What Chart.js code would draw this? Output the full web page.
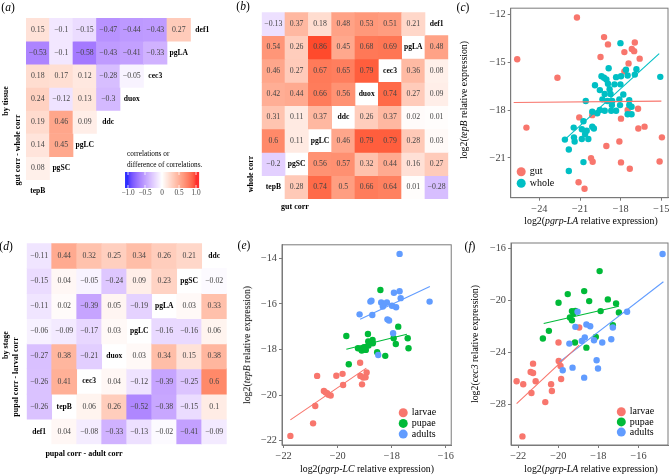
<!DOCTYPE html>
<html>
<head>
<meta charset="utf-8">
<script src="https://cdn.jsdelivr.net/npm/chart.js@4.4.0/dist/chart.umd.min.js"></script>
<style>
  body { margin: 0; background: #fff; width: 672px; height: 476px; position: relative; overflow: hidden;
         font-family: "Liberation Serif", "Times New Roman", serif; }
  canvas { position: absolute; }
  .t { position: absolute; white-space: nowrap; color: #000; line-height: 1; transform: translate(-50%, -50%); z-index: 2; }
  .r { transform: translate(-50%, -50%) rotate(-90deg); }
  .h { font-weight: bold; font-size: 8px; }
  .p { font-size: 11.5px; }
  .ax { font-size: 9.8px; }
</style>
</head>
<body>
<canvas id="chartA" width="230" height="232" style="left:0;top:0"></canvas>
<canvas id="chartB" width="220" height="232" style="left:232px;top:0"></canvas>
<canvas id="chartC" width="202" height="216" style="left:470px;top:0"></canvas>
<canvas id="chartD" width="232" height="240" style="left:0;top:232px"></canvas>
<canvas id="chartE" width="216" height="232" style="left:240px;top:232px"></canvas>
<canvas id="chartF" width="196" height="232" style="left:476px;top:232px"></canvas>

<div class="t p" style="left:8px;top:8px">(<i>a</i>)</div>
<div class="t p" style="left:243px;top:7px">(<i>b</i>)</div>
<div class="t p" style="left:463px;top:8px">(<i>c</i>)</div>
<div class="t p" style="left:6px;top:247px">(<i>d</i>)</div>
<div class="t p" style="left:244px;top:246px">(<i>e</i>)</div>
<div class="t p" style="left:470px;top:247px">(<i>f</i>)</div>

<div class="t r h" style="left:6px;top:101px">by tissue</div>
<div class="t r h" style="left:18px;top:150px">gut corr - whole corr</div>
<div class="t r h" style="left:251px;top:174px">whole corr</div>
<div class="t h" style="left:295px;top:207px">gut corr</div>
<div class="t r h" style="left:6px;top:345px">by stage</div>
<div class="t r h" style="left:16px;top:377px">pupal corr - larval corr</div>
<div class="t h" style="left:84px;top:454px">pupal corr - adult corr</div>

<div class="t r ax" style="left:464px;top:100px">log2(<i>tepB</i> relative expression)</div>
<div class="t ax" style="left:591px;top:221px">log2(<i>pgrp-LA</i> relative expression)</div>
<div class="t r ax" style="left:247px;top:345px">log2(<i>tepB</i> relative expression)</div>
<div class="t ax" style="left:367px;top:469px">log2(<i>pgrp-LC</i> relative expression)</div>
<div class="t r ax" style="left:475px;top:344px">log2(<i>cec3</i> relative expression)</div>
<div class="t ax" style="left:591px;top:469px">log2(<i>pgrp-LA</i> relative expression)</div>

<script>
// ---- heatmap data (rows top to bottom, null = empty / diagonal label) ----
const tissueCols = ["tepB", "pgSC", "pgLC", "ddc", "duox", "cec3", "pgLA", "def1"];
const tissueDiag = ["def1", "pgLA", "cec3", "duox", "ddc", "pgLC", "pgSC", "tepB"];
const tissueDiff = [
  [0.15, -0.1, -0.15, -0.47, -0.44, -0.43, 0.27, null],
  [-0.53, -0.1, -0.58, -0.43, -0.41, -0.33, null, null],
  [0.18, 0.17, 0.12, -0.28, -0.05, null, null, null],
  [0.24, -0.12, 0.13, -0.3, null, null, null, null],
  [0.19, 0.46, 0.09, null, null, null, null, null],
  [0.14, 0.45, null, null, null, null, null, null],
  [0.08, null, null, null, null, null, null, null],
  [null, null, null, null, null, null, null, null]
];
const tissueCorr = [
  [-0.13, 0.37, 0.18, 0.48, 0.53, 0.51, 0.21, null],
  [0.54, 0.26, 0.86, 0.45, 0.68, 0.69, null, 0.48],
  [0.46, 0.27, 0.67, 0.65, 0.79, null, 0.36, 0.08],
  [0.42, 0.44, 0.66, 0.56, null, 0.74, 0.27, 0.09],
  [0.31, 0.11, 0.37, null, 0.26, 0.37, 0.02, 0.01],
  [0.6, 0.11, null, 0.46, 0.79, 0.79, 0.28, 0.03],
  [-0.2, null, 0.56, 0.57, 0.32, 0.44, 0.16, 0.27],
  [null, 0.28, 0.74, 0.5, 0.66, 0.64, 0.01, -0.28]
];
const stageCols = ["def1", "tepB", "cec3", "duox", "pgLC", "pgLA", "pgSC", "ddc"];
const stageDiag = ["ddc", "pgSC", "pgLA", "pgLC", "duox", "cec3", "tepB", "def1"];
const stageDiff = [
  [-0.11, 0.44, 0.32, 0.25, 0.34, 0.26, 0.21, null],
  [-0.15, 0.04, -0.05, -0.24, 0.09, 0.23, null, -0.02],
  [-0.11, 0.02, -0.39, 0.05, -0.19, null, 0.03, 0.33],
  [-0.06, -0.09, -0.17, 0.03, null, -0.16, -0.16, 0.06],
  [-0.27, 0.38, -0.21, null, 0.03, 0.34, 0.15, 0.38],
  [-0.26, 0.41, null, 0.04, -0.12, -0.39, -0.25, 0.6],
  [-0.26, null, 0.06, 0.26, -0.52, -0.38, -0.15, 0.1],
  [null, 0.04, -0.08, -0.33, -0.13, -0.02, -0.41, -0.09]
];
const cbTickVals = [-1, -0.5, 0, 0.5, 1];
const cbTickText = ["\u22121.0", "\u22120.5", "0", "0.5", "1.0"];
const cbTitle = ["correlations or", "difference of correlations."];

// ---- scatter data ----
const gutLA = [-21.23, -19.23, -18.94, -19.49, -25.64, -22.67, -17.73, -16.96, -17.18, -17.01, -16.6, -17.42, -17.73, -21.06, -24.96, -20.1, -17.98, -16.72, -17.49, -16.7, -16.24, -14.96, -19.06, -18.1, -20.19, -20.07, -17.98, -17.33, -21.11, -20.67, -15.13];
const gutTepB = [-12.2, -13.43, -13.89, -14.68, -14.82, -15.98, -14.37, -13.77, -14.17, -14.31, -14.78, -15.08, -15.58, -18.46, -19.1, -18.32, -18.54, -17.92, -18.0, -19.16, -19.04, -19.71, -20.25, -19.97, -21.01, -21.24, -21.28, -21.68, -22.52, -22.93, -21.22];
const wholeLA = [-18.02, -18.89, -18.34, -17.98, -17.61, -17.49, -16.84, -16.96, -19.42, -19.23, -19.06, -19.9, -18.94, -18.82, -18.46, -19.54, -19.18, -18.75, -18.02, -17.81, -19.35, -18.99, -18.63, -18.1, -17.37, -20.58, -17.37, -18.65, -18.05, -19.54, -19.18, -18.7, -18.34, -17.49, -17.2, -17.2, -20.1, -19.73, -20.75, -20.87, -20.1, -19.98, -20.51, -21.47, -20.63, -22.12, -21.45, -21.4, -21.83, -20.87, -20.39, -20.75, -21.83, -15.08];
const wholeTepB = [-13.81, -15.38, -15.94, -15.88, -15.48, -15.84, -15.44, -15.78, -15.88, -15.98, -16.08, -16.45, -16.35, -16.69, -16.39, -16.75, -16.99, -16.99, -16.39, -17.03, -17.33, -17.43, -17.43, -17.33, -17.39, -17.43, -17.69, -17.69, -17.69, -18.0, -18.04, -18.04, -18.04, -18.26, -18.26, -17.79, -18.1, -18.2, -18.7, -19.2, -19.04, -19.16, -19.3, -19.1, -19.5, -19.85, -19.71, -19.97, -20.47, -19.81, -19.81, -21.26, -21.82, -15.92];
const gutFitX = [-25.9, -15.0], gutFitY = [-17.53, -17.44];
const wholeFitX = [-22.07, -15.16], wholeFitY = [-19.81, -14.47];

const larvaeLC = [-21.75, -20.91, -20.83, -20.76, -20.51, -20.45, -20.39, -20.34, -20.26, -20.05, -19.82, -19.8, -19.17, -19.16, -19.06, -18.97, -18.93, -19.1];
const larvaeTepB = [-21.79, -21.24, -20.48, -19.16, -19.82, -19.88, -19.92, -19.99, -20.02, -19.15, -19.07, -19.56, -18.58, -19.16, -19.23, -19.22, -19.01, -19.53];
const pupaeLC = [-18.42, -19.68, -19.59, -19.25, -19.13, -19.11, -18.88, -18.87, -18.86, -19.02, -18.96, -18.71, -18.7, -18.54, -18.24, -17.76, -17.93, -17.85, -17.38, -17.41];
const pupaeTepB = [-15.39, -17.41, -18.65, -17.95, -17.99, -18.05, -17.32, -17.65, -17.83, -17.9, -18.02, -17.58, -17.73, -18.12, -18.28, -17.0, -17.51, -17.76, -17.95, -17.51];
const adultsLC = [-17.71, -19.19, -18.79, -18.75, -18.72, -18.39, -18.27, -18.18, -18.33, -17.99, -17.92, -17.71, -17.67, -17.84, -18.16, -18.1, -17.95, -18.5, -16.6];
const adultsTepB = [-13.81, -16.46, -15.9, -15.86, -16.49, -15.94, -16.0, -15.94, -16.12, -16.08, -15.51, -15.45, -15.75, -16.15, -16.68, -16.73, -17.29, -18.24, -15.9];
const larvaeFitE = { x: [-21.75, -18.94], y: [-21.09, -18.82] };
const pupaeFitE = { x: [-19.68, -17.44], y: [-17.99, -17.33] };
const adultsFitE = { x: [-19.17, -16.59], y: [-16.68, -15.24] };

const larvaeLA = [-22.08, -21.75, -21.38, -21.34, -21.26, -21.26, -21.13, -20.65, -20.36, -20.32, -19.99, -19.98, -19.89, -19.86, -18.96, -21.79];
const larvaeCec3 = [-26.23, -26.46, -25.51, -27.13, -24.87, -25.59, -26.23, -27.83, -26.46, -26.98, -23.25, -24.66, -25.05, -26.05, -22.09, -30.47];
const pupaeLA = [-17.94, -18.71, -19.53, -19.99, -18.46, -17.53, -17.12, -16.98, -17.89, -19.32, -19.15, -19.25, -19.42, -19.32, -17.28, -20.47, -20.77, -18.13, -18.6, -19.17];
const pupaeCec3 = [-17.75, -19.29, -19.52, -20.19, -20.06, -19.93, -20.24, -20.94, -20.83, -20.83, -20.81, -21.01, -21.32, -21.53, -21.91, -22.35, -22.94, -22.81, -23.64, -23.25];
const adultsLA = [-14.8, -19.04, -19.15, -18.6, -18.41, -17.28, -16.57, -19.45, -18.83, -18.68, -18.22, -17.81, -17.36, -18.09, -18.02, -19.29, -19.78, -18.71];
const adultsCec3 = [-16.44, -20.88, -22.04, -21.86, -21.99, -22.09, -20.88, -23.33, -23.12, -22.86, -23.07, -23.25, -22.99, -24.61, -25.25, -25.18, -25.38, -25.95];
const larvaeFitF = { x: [-22.08, -18.96], y: [-27.95, -23.45] };
const pupaeFitF = { x: [-20.73, -16.98], y: [-21.78, -20.45] };
const adultsFitF = { x: [-19.94, -14.76], y: [-24.74, -18.57] };

const cTicksX = [-24, -21, -18, -15], cTicksY = [-21, -18, -15, -12];
const eTicksX = [-22, -20, -18, -16], eTicksY = [-22, -20, -18, -16, -14];
const fTicksX = [-22, -20, -18, -16], fTicksY = [-28, -24, -20, -16];

const RED = "#F8766D", TEAL = "#00BFC4", GREEN = "#00BA38", BLUE = "#619CFF";
const SERIF = '"Liberation Serif", "Times New Roman", serif';
Chart.defaults.font.family = SERIF;

// blue - white - red gradient interpolated in Lab space (like ggplot's gradient2)
function toLin(c) { c /= 255; return c <= 0.04045 ? c / 12.92 : Math.pow((c + 0.055) / 1.055, 2.4); }
function toByte(c) {
  const v = c <= 0.0031308 ? 12.92 * c : 1.055 * Math.pow(c, 1 / 2.4) - 0.055;
  return Math.round(Math.max(0, Math.min(1, v)) * 255);
}
function rgbToLab(rgb) {
  const R = toLin(rgb[0]), G = toLin(rgb[1]), B = toLin(rgb[2]);
  const f = t => t > 0.008856 ? Math.cbrt(t) : 7.787 * t + 16 / 116;
  const fx = f((R * 0.4124 + G * 0.3576 + B * 0.1805) / 0.95047);
  const fy = f(R * 0.2126 + G * 0.7152 + B * 0.0722);
  const fz = f((R * 0.0193 + G * 0.1192 + B * 0.9505) / 1.08883);
  return [116 * fy - 16, 500 * (fx - fy), 200 * (fy - fz)];
}
function labToRgb(lab) {
  const fy = (lab[0] + 16) / 116, fx = fy + lab[1] / 500, fz = fy - lab[2] / 200;
  const inv = t => t * t * t > 0.008856 ? t * t * t : (t - 16 / 116) / 7.787;
  const x = inv(fx) * 0.95047, y = inv(fy), z = inv(fz) * 1.08883;
  const r = 3.2406 * x - 1.5372 * y - 0.4986 * z;
  const g = -0.9689 * x + 1.8758 * y + 0.0415 * z;
  const b = 0.0557 * x - 0.2040 * y + 1.0570 * z;
  return "rgb(" + toByte(r) + "," + toByte(g) + "," + toByte(b) + ")";
}
const labBlue = rgbToLab([0, 0, 255]), labWhite = rgbToLab([255, 255, 255]), labRed = rgbToLab([255, 0, 0]);
function fillFor(v) {
  const t = Math.min(1, Math.abs(v));
  const end = v < 0 ? labBlue : labRed;
  return labToRgb(labWhite.map((w, i) => w + (end[i] - w) * t));
}
function fmt(v) { return v < 0 ? "\u2212" + String(-v) : String(v); }

// numbers and diagonal gene names on the heatmaps
const cellText = {
  id: "cellText",
  afterDatasetsDraw(chart, args, o) {
    const ctx = chart.ctx, xs = chart.scales.x, ys = chart.scales.y;
    ctx.save();
    ctx.textAlign = "center";
    ctx.textBaseline = "middle";
    chart.data.datasets.forEach((ds, r) => {
      const y = ys.getPixelForValue(7.5 - r);
      ds.vals.forEach((v, c) => {
        const x = xs.getPixelForValue(c);
        if (v !== null) {
          ctx.font = "7.8px " + SERIF;
          ctx.fillStyle = "#444";
          ctx.fillText(fmt(v), x, y);
        } else if (c === 7 - r) {
          ctx.font = "bold 7.6px " + SERIF;
          ctx.fillStyle = "#000";
          ctx.fillText(o.diag[r], x, y);
        }
      });
    });
    ctx.restore();
  }
};

// colour bar legend drawn in panel (a)
const colorBar = {
  id: "colorBar",
  afterDraw(chart) {
    const ctx = chart.ctx;
    const x0 = 125, x1 = 199, y0 = 172, y1 = 188, v0 = 128, v1 = 196;
    const px = v => v0 + (v + 1) / 2 * (v1 - v0);
    ctx.save();
    for (let x = x0; x < x1; x += 0.5) {
      const v = Math.max(-1, Math.min(1, (x + 0.25 - v0) / (v1 - v0) * 2 - 1));
      ctx.fillStyle = fillFor(v);
      ctx.fillRect(x, y0, 0.6, y1 - y0);
    }
    ctx.strokeStyle = "#fff";
    ctx.lineWidth = 0.8;
    cbTickVals.forEach(v => {
      const x = px(v);
      ctx.beginPath();
      ctx.moveTo(x, y0); ctx.lineTo(x, y0 + 3);
      ctx.moveTo(x, y1); ctx.lineTo(x, y1 - 3);
      ctx.stroke();
    });
    ctx.fillStyle = "#444";
    ctx.font = "7.3px " + SERIF;
    ctx.textAlign = "center";
    ctx.textBaseline = "middle";
    cbTickVals.forEach((v, i) => ctx.fillText(cbTickText[i], px(v), 193.5));
    ctx.fillStyle = "#000";
    ctx.textAlign = "left";
    cbTitle.forEach((s, i) => ctx.fillText(s, 127, 154 + i * 10.7));
    ctx.restore();
  }
};

function heatPanel(id, rows, cols, diag, pad, extra) {
  const datasets = rows.map((row, r) => ({
    data: row.map(v => v === null ? null : [7 - r, 8 - r]),
    vals: row,
    backgroundColor: row.map(v => v === null ? "rgba(0,0,0,0)" : fillFor(v)),
    borderWidth: 0,
    barPercentage: 1,
    categoryPercentage: 1,
    grouped: false
  }));
  return new Chart(document.getElementById(id), {
    type: "bar",
    data: { labels: cols, datasets: datasets },
    options: {
      responsive: false,
      animation: false,
      events: [],
      layout: { padding: pad },
      plugins: { legend: { display: false }, tooltip: { enabled: false }, cellText: { diag: diag } },
      scales: {
        x: { display: false },
        y: { display: false, min: 0, max: 8 }
      }
    },
    plugins: [cellText].concat(extra || [])
  });
}

heatPanel("chartA", tissueDiff, tissueCols, tissueDiag, { left: 26, top: 18, right: 16, bottom: 29.2 }, [colorBar]);
heatPanel("chartB", tissueCorr, tissueCols, tissueDiag, { left: 29.7, top: 12.3, right: 3.7, bottom: 33 });
heatPanel("chartD", stageDiff, stageCols, stageDiag, { left: 26.7, top: 11.3, right: 5.3, bottom: 27.7 });

// scatter panels
const framePlugin = {
  id: "frame",
  afterDraw(chart) {
    const a = chart.chartArea, ctx = chart.ctx;
    ctx.save();
    ctx.strokeStyle = "#7a7a7a";
    ctx.lineWidth = 1;
    ctx.strokeRect(a.left, a.top, a.right - a.left, a.bottom - a.top);
    ctx.restore();
  }
};
const keyPlugin = {
  id: "keys",
  afterDraw(chart, args, o) {
    const a = chart.chartArea, ctx = chart.ctx;
    ctx.save();
    o.items.forEach((it, i) => {
      const x = o.left ? a.left + o.dx : a.right - o.dx;
      const y = a.bottom - o.dy + i * o.step;
      ctx.fillStyle = it.color;
      ctx.beginPath();
      ctx.arc(x, y, 4.5, 0, Math.PI * 2);
      ctx.fill();
      ctx.fillStyle = "#000";
      ctx.font = "10px " + SERIF;
      ctx.textAlign = "left";
      ctx.textBaseline = "middle";
      ctx.fillText(it.label, x + 8.5, y);
    });
    ctx.restore();
  }
};

function pts(xs, ys) { return xs.map((x, i) => ({ x: x, y: ys[i] })); }

function axis(min, max, ticks, fit) {
  return {
    type: "linear", min: min, max: max,
    afterBuildTicks: s => { s.ticks = ticks.map(v => ({ value: v })); },
    afterFit: fit,
    grid: { drawOnChartArea: false, tickLength: 3, color: "#7a7a7a" },
    border: { color: "#7a7a7a" },
    ticks: { autoSkip: false, maxRotation: 0, padding: 2, color: "#444", font: { size: 10.3 }, callback: v => fmt(v) }
  };
}

function scatterPanel(id, c) {
  const lines = c.groups.map(g => ({
    data: pts(g.fit.x, g.fit.y), showLine: true, borderColor: g.color, borderWidth: 1.1,
    pointRadius: 0, order: 0
  }));
  const dots = c.groups.slice().reverse().map(g => ({
    data: pts(g.x, g.y), backgroundColor: g.color, borderColor: g.color, borderWidth: 0,
    pointRadius: 3.2, order: 1
  }));
  return new Chart(document.getElementById(id), {
    type: "scatter",
    data: { datasets: lines.concat(dots) },
    options: {
      responsive: false,
      animation: false,
      events: [],
      layout: { padding: { left: 0, top: c.padTop, right: c.padRight, bottom: 0 } },
      plugins: {
        legend: { display: false }, tooltip: { enabled: false },
        keys: Object.assign({ items: c.groups.map(g => ({ label: g.label, color: g.color })) }, c.key)
      },
      scales: {
        x: axis(c.xMin, c.xMax, c.xTicks, s => { s.height = c.xH; }),
        y: axis(c.yMin, c.yMax, c.yTicks, s => { s.width = c.yW; })
      }
    },
    plugins: [framePlugin, keyPlugin]
  });
}

scatterPanel("chartC", {
  groups: [
    { label: "gut", color: RED, x: gutLA, y: gutTepB, fit: { x: gutFitX, y: gutFitY } },
    { label: "whole", color: TEAL, x: wholeLA, y: wholeTepB, fit: { x: wholeFitX, y: wholeFitY } }
  ],
  xMin: -26.12, xMax: -14.51, yMin: -23.49, yMax: -11.62,
  xTicks: cTicksX, yTicks: cTicksY,
  yW: 40.7, xH: 18.3, padTop: 2.3, padRight: 1.3,
  key: { left: true, dx: 10.5, dy: 26, step: 11.6 }
});

scatterPanel("chartE", {
  groups: [
    { label: "larvae", color: RED, x: larvaeLC, y: larvaeTepB, fit: larvaeFitE },
    { label: "pupae", color: GREEN, x: pupaeLC, y: pupaeTepB, fit: pupaeFitE },
    { label: "adults", color: BLUE, x: adultsLC, y: adultsTepB, fit: adultsFitE }
  ],
  xMin: -22.06, xMax: -15.8, yMin: -22.19, yMax: -13.41,
  xTicks: eTicksX, yTicks: eTicksY,
  yW: 42, xH: 19, padTop: 12.8, padRight: 4,
  key: { left: false, dx: 48, dy: 32.3, step: 10.7 }
});

scatterPanel("chartF", {
  groups: [
    { label: "larvae", color: RED, x: larvaeLA, y: larvaeCec3, fit: larvaeFitF },
    { label: "pupae", color: GREEN, x: pupaeLA, y: pupaeCec3, fit: pupaeFitF },
    { label: "adults", color: BLUE, x: adultsLA, y: adultsCec3, fit: adultsFitF }
  ],
  xMin: -22.36, xMax: -14.53, yMin: -31.13, yMax: -15.59,
  xTicks: fTicksX, yTicks: fTicksY,
  yW: 35, xH: 19, padTop: 11, padRight: 2,
  key: { left: false, dx: 46.7, dy: 33.3, step: 10.2 }
});
</script>
</body>
</html>
